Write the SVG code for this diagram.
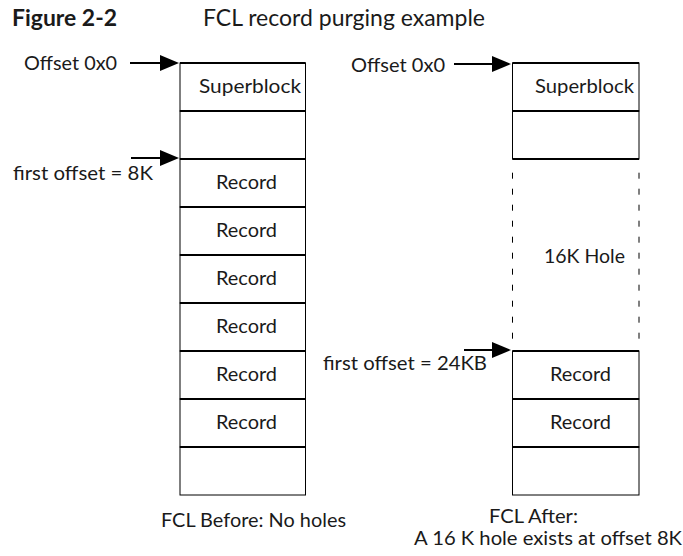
<svg xmlns="http://www.w3.org/2000/svg" width="683" height="556" viewBox="0 0 683 556">
<style>
text{font-family:Lato,"Open Sans","DejaVu Sans",sans-serif;fill:#1a1a1a;font-size:20px}
.title{font-size:22.5px}
.bold{font-weight:bold}
.small{font-size:18.5px}
.cell{fill:#fff;stroke:#000;stroke-width:1}
.div{stroke:#000;stroke-width:1.8}
.dash{stroke:#000;stroke-width:1;stroke-dasharray:6 10}
.arrow{stroke:#000;stroke-width:2;fill:none;marker-end:url(#head)}
</style>
<defs>
<marker id="head" viewBox="0 0 19 16" markerWidth="19" markerHeight="16" refX="9" refY="8" markerUnits="userSpaceOnUse" orient="auto">
<path d="M0,0 L19,8 L0,16 z" fill="#000"/>
</marker>
</defs>
<rect width="683" height="556" fill="#fff"/>
<text class="title bold" x="12" y="26" textLength="105" lengthAdjust="spacingAndGlyphs">Figure 2-2</text>
<text class="title" x="203" y="26" textLength="282" lengthAdjust="spacingAndGlyphs">FCL record purging example</text>

<g id="before">
<g id="b-superblock"><rect class="cell" x="180" y="63" width="125.5" height="48"/><text x="199" y="93" textLength="102" lengthAdjust="spacingAndGlyphs">Superblock</text></g>
<g id="b-empty1"><rect class="cell" x="180" y="111" width="125.5" height="48"/></g>
<g id="b-record1"><rect class="cell" x="180" y="159" width="125.5" height="48"/><text x="216" y="189" textLength="61" lengthAdjust="spacingAndGlyphs">Record</text></g>
<g id="b-record2"><rect class="cell" x="180" y="207" width="125.5" height="48"/><text x="216" y="237" textLength="61" lengthAdjust="spacingAndGlyphs">Record</text></g>
<g id="b-record3"><rect class="cell" x="180" y="255" width="125.5" height="48"/><text x="216" y="285" textLength="61" lengthAdjust="spacingAndGlyphs">Record</text></g>
<g id="b-record4"><rect class="cell" x="180" y="303" width="125.5" height="48"/><text x="216" y="333" textLength="61" lengthAdjust="spacingAndGlyphs">Record</text></g>
<g id="b-record5"><rect class="cell" x="180" y="351" width="125.5" height="48"/><text x="216" y="381" textLength="61" lengthAdjust="spacingAndGlyphs">Record</text></g>
<g id="b-record6"><rect class="cell" x="180" y="399" width="125.5" height="48"/><text x="216" y="429" textLength="61" lengthAdjust="spacingAndGlyphs">Record</text></g>
<g id="b-empty2"><rect class="cell" x="180" y="447" width="125.5" height="48"/></g>
<g id="b-dividers">
<line class="div" x1="180" y1="63" x2="305.5" y2="63"/>
<line class="div" x1="180" y1="111" x2="305.5" y2="111"/>
<line class="div" x1="180" y1="159" x2="305.5" y2="159"/>
<line class="div" x1="180" y1="207" x2="305.5" y2="207"/>
<line class="div" x1="180" y1="255" x2="305.5" y2="255"/>
<line class="div" x1="180" y1="303" x2="305.5" y2="303"/>
<line class="div" x1="180" y1="351" x2="305.5" y2="351"/>
<line class="div" x1="180" y1="399" x2="305.5" y2="399"/>
<line class="div" x1="180" y1="447" x2="305.5" y2="447"/>
</g>
<text x="161" y="527" textLength="185" lengthAdjust="spacingAndGlyphs">FCL Before: No holes</text>
</g>

<g id="after">
<g id="a-superblock"><rect class="cell" x="512.5" y="63" width="126.5" height="48"/><text x="535" y="93" textLength="99" lengthAdjust="spacingAndGlyphs">Superblock</text></g>
<g id="a-empty1"><rect class="cell" x="512.5" y="111" width="126.5" height="48"/></g>
<g id="a-hole">
<line class="dash" x1="512.5" y1="172.7" x2="512.5" y2="339"/>
<line class="dash" x1="639" y1="172.7" x2="639" y2="339"/>
<text x="544" y="263" textLength="81" lengthAdjust="spacingAndGlyphs">16K Hole</text>
</g>
<g id="a-record1"><rect class="cell" x="512.5" y="351" width="126.5" height="48"/><text x="550" y="381" textLength="61" lengthAdjust="spacingAndGlyphs">Record</text></g>
<g id="a-record2"><rect class="cell" x="512.5" y="399" width="126.5" height="48"/><text x="550" y="429" textLength="61" lengthAdjust="spacingAndGlyphs">Record</text></g>
<g id="a-empty2"><rect class="cell" x="512.5" y="447" width="126.5" height="48"/></g>
<g id="a-dividers">
<line class="div" x1="512.5" y1="63" x2="639" y2="63"/>
<line class="div" x1="512.5" y1="111" x2="639" y2="111"/>
<line class="div" x1="512.5" y1="159" x2="639" y2="159"/>
<line class="div" x1="512.5" y1="351" x2="639" y2="351"/>
<line class="div" x1="512.5" y1="399" x2="639" y2="399"/>
<line class="div" x1="512.5" y1="447" x2="639" y2="447"/>
</g>
<text class="small" x="489" y="523" textLength="89" lengthAdjust="spacingAndGlyphs">FCL After:</text>
<text class="small" x="414" y="545" textLength="268" lengthAdjust="spacingAndGlyphs">A 16 K hole exists at offset 8K</text>
</g>

<g id="connectors">
<text x="24" y="70" textLength="93" lengthAdjust="spacingAndGlyphs">Offset 0x0</text>
<line class="arrow" x1="130" y1="63" x2="169" y2="63"/>
<text x="13" y="180" textLength="140" lengthAdjust="spacingAndGlyphs">first offset = 8K</text>
<line class="arrow" x1="131" y1="158" x2="169" y2="158"/>
<text x="351" y="72" textLength="94" lengthAdjust="spacingAndGlyphs">Offset 0x0</text>
<line class="arrow" x1="454" y1="64" x2="501" y2="64"/>
<text x="323" y="370" textLength="164" lengthAdjust="spacingAndGlyphs">first offset = 24KB</text>
<line class="arrow" x1="464" y1="350" x2="501" y2="350"/>
</g>
</svg>
